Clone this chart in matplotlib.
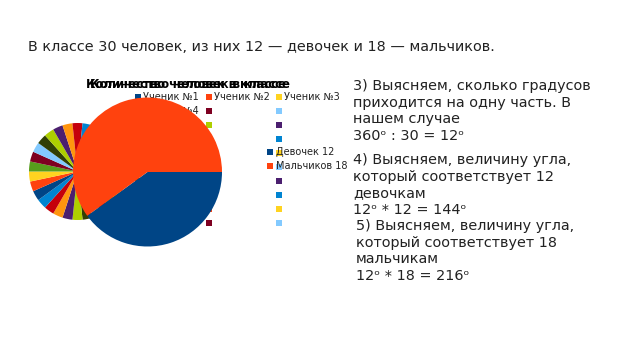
import matplotlib.pyplot as plt

# LibreOffice default chart palette
palette = ['#004586', '#ff420e', '#ffd320', '#579d1c', '#7e0021', '#83caff',
           '#314004', '#aecf00', '#4b1f6f', '#ff950e', '#c5000b', '#0084d1']

# chart 1: every student is one equal slice
students = [1] * 30
student_labels = ['Ученик №1', 'Ученик №2', 'Ученик №3', 'Ученик №4'] + [''] * 26

# chart 2: girls / boys
groups = ['Девочек 12', 'Мальчиков 18']
group_values = [12, 18]
group_colors = ['#004586', '#ff420e']

title = 'Количество человек в классе'
header = 'В классе 30 человек, из них 12 — девочек и 18 — мальчиков.'
step3 = '3) Выясняем, сколько градусов\nприходится на одну часть. В\nнашем случае\n360ᵒ : 30 = 12ᵒ'
step4 = '4) Выясняем, величину угла,\nкоторый соответствует 12\nдевочкам\n12ᵒ * 12 = 144ᵒ'
step5 = '5) Выясняем, величину угла,\nкоторый соответствует 18\nмальчикам\n12ᵒ * 18 = 216ᵒ'

W, H = 640, 359
fig = plt.figure(figsize=(6.4, 3.59), dpi=100)
ax = fig.add_axes([0, 0, 1, 1])

def py(y):  # pixel row from top -> data y
    return H - y

# small pie (students)
colors1 = [palette[i % 12] for i in range(len(students))]
w1, _ = ax.pie(students, colors=colors1, startangle=0, counterclock=False,
               center=(77.5, py(171.5)), radius=48.5, wedgeprops=dict(linewidth=0))
for w in w1:
    w.set_zorder(1)

# legend of chart 1 (row-major, 3 columns)
for k, lab in enumerate(student_labels):
    r, c = divmod(k, 3)
    x = 138 + 70.5 * c
    y = py(97 + 14 * r)
    ax.scatter([x], [y], marker='s', s=13, color=colors1[k], linewidths=0, zorder=2)
    ax.text(x + 5, y, lab, fontsize=7, va='center', ha='left', color='#222222', zorder=2)

# titles of the two overlapping charts
ax.text(185.5, py(84), title, fontsize=8.4, fontweight='bold', ha='center', va='center', zorder=2)
ax.text(190, py(84), title, fontsize=8.4, fontweight='bold', ha='center', va='center', zorder=2)

# big pie (girls / boys)
w2, _ = ax.pie(group_values, colors=group_colors, startangle=0, counterclock=False,
               center=(147.5, py(172)), radius=74.5, wedgeprops=dict(linewidth=0))
for w in w2:
    w.set_zorder(3)

# legend of chart 2
for i, lab in enumerate(groups):
    y = py(152 + 14 * i)
    ax.scatter([270], [y], marker='s', s=13, color=group_colors[i], linewidths=0, zorder=4)
    ax.text(276, y, lab, fontsize=7, va='center', ha='left', color='#222222', zorder=4)

# slide text
ax.text(28, py(47), header, fontsize=10.4, va='center', ha='left', color='#222222')
ax.text(353, py(79), step3, fontsize=10.4, va='top', ha='left', linespacing=1.24, color='#222222')
ax.text(353, py(153), step4, fontsize=10.4, va='top', ha='left', linespacing=1.24, color='#222222')
ax.text(356, py(219), step5, fontsize=10.4, va='top', ha='left', linespacing=1.24, color='#222222')

# pie() resets the limits, so fix the pixel frame last
ax.set_xlim(0, W)
ax.set_ylim(0, H)
ax.set_aspect('equal')
ax.axis('off')

fig.savefig('out.png', dpi=100)
